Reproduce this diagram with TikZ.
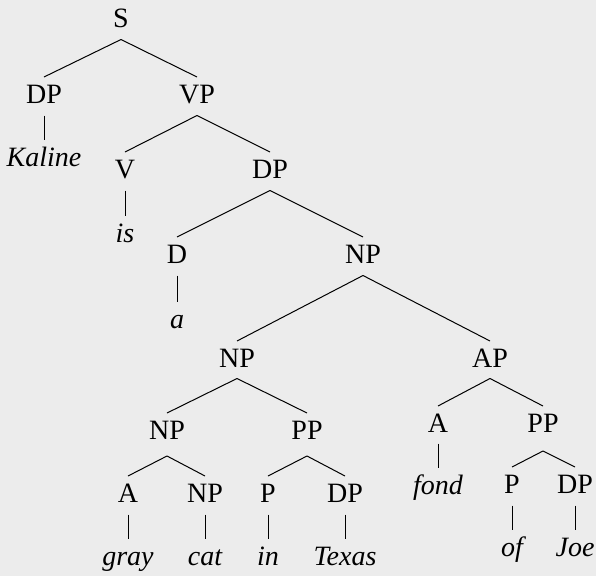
\documentclass[tikz,border=0pt]{standalone}
\usepackage{fontspec}
\setmainfont{Liberation Serif}
\begin{document}
\begin{tikzpicture}[x=1pt,y=-1pt,
  lab/.style={anchor=base,inner sep=0pt,font=\fontsize{28}{32}\selectfont},
  leaf/.style={lab,font=\fontsize{28}{32}\selectfont\itshape},
  branch/.style={line width=1pt,black}]
\definecolor{bgc}{RGB}{236,236,236}
\fill[bgc] (0,0) rectangle (596,576);
\useasboundingbox (0,0) rectangle (596,576);
% nodes
\node[lab] (S) at (121,27) {S};
\node[lab] (DPa) at (44,103) {DP};
\node[lab] (VP) at (197,103) {VP};
\node[leaf] (Kaline) at (44,166) {Kaline};
\node[lab] (V) at (125,178) {V};
\node[lab] (DPb) at (270,178) {DP};
\node[leaf] (is) at (125,242) {is};
\node[lab] (D) at (177,263) {D};
\node[lab] (NPa) at (363,263) {NP};
\node[leaf] (a) at (177,328) {a};
\node[lab] (NPb) at (237,367) {NP};
\node[lab] (AP) at (490,367) {AP};
\node[lab] (NPc) at (167,439) {NP};
\node[lab] (PPa) at (307,439) {PP};
\node[lab] (Aa) at (438,432) {A};
\node[lab] (PPb) at (543,432) {PP};
\node[leaf] (fond) at (438,494) {fond};
\node[lab] (Ab) at (128,502) {A};
\node[lab] (NPd) at (205,502) {NP};
\node[lab] (Pa) at (268,502) {P};
\node[lab] (DPc) at (345,502) {DP};
\node[lab] (Pb) at (512,493) {P};
\node[lab] (DPd) at (575,493) {DP};
\node[leaf] (gray) at (128,565) {gray};
\node[leaf] (cat) at (205,565) {cat};
\node[leaf] (in) at (268,565) {in};
\node[leaf] (Texas) at (345,565) {Texas};
\node[leaf] (of) at (512,556) {of};
\node[leaf] (Joe) at (575,556) {Joe};
% edges
\newcommand{\treeedge}[3][12.5]{\draw[branch] ([yshift=-#1pt]#2.base) -- ([yshift=26pt]#3.base);}
\treeedge{S}{DPa}
\treeedge{S}{VP}
\treeedge{DPa}{Kaline}
\treeedge{VP}{V}
\treeedge{VP}{DPb}
\treeedge{V}{is}
\treeedge{DPb}{D}
\treeedge{DPb}{NPa}
\treeedge{D}{a}
\treeedge{NPa}{NPb}
\treeedge{NPa}{AP}
\treeedge[11.5]{NPb}{NPc}
\treeedge[11.5]{NPb}{PPa}
\treeedge[11.5]{AP}{Aa}
\treeedge[11.5]{AP}{PPb}
\treeedge[11.5]{Aa}{fond}
\treeedge[17]{NPc}{Ab}
\treeedge[17]{NPc}{NPd}
\treeedge[17]{PPa}{Pa}
\treeedge[17]{PPa}{DPc}
\treeedge[19]{PPb}{Pb}
\treeedge[19]{PPb}{DPd}
\treeedge{Ab}{gray}
\treeedge{NPd}{cat}
\treeedge{Pa}{in}
\treeedge{DPc}{Texas}
\treeedge{Pb}{of}
\treeedge{DPd}{Joe}
\end{tikzpicture}
\end{document}
